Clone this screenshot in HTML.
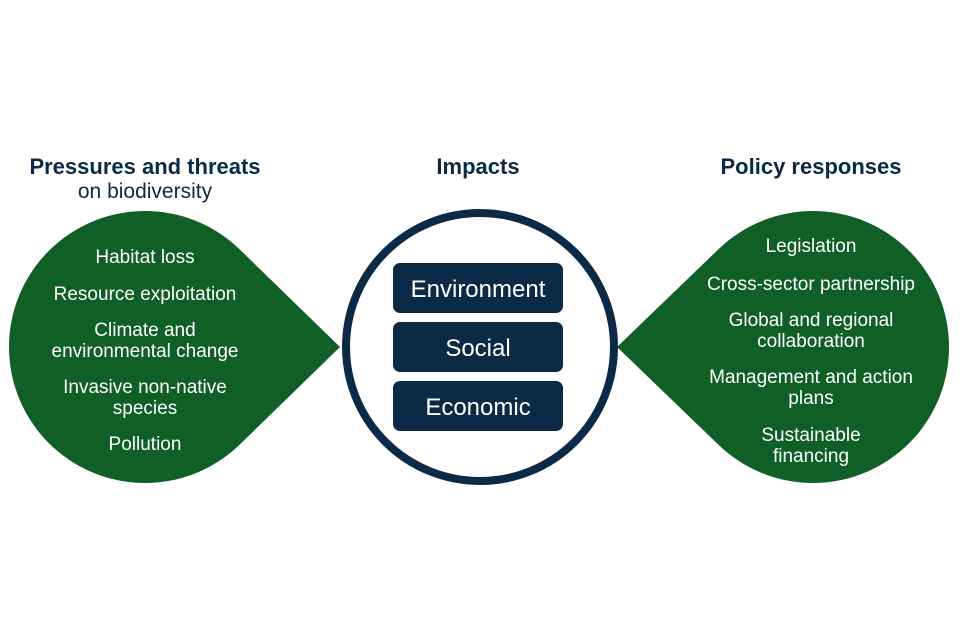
<!DOCTYPE html>
<html><head><meta charset="utf-8"><style>
body{margin:0;width:960px;height:640px;background:#fff;overflow:hidden;font-family:"Liberation Sans",sans-serif}
svg{position:absolute;left:0;top:0}
</style></head><body>
<svg width="960" height="640" viewBox="0 0 960 640" font-family="Liberation Sans, sans-serif">
<path d="M340,347 L239.8,249.5 A136,136 0 1 0 239.8,444.5 Z" fill="#0f5f27"/>
<path d="M617,347 L718.2,249.5 A136,136 0 1 1 718.2,444.5 Z" fill="#0f5f27"/>
<circle cx="480" cy="347" r="134" fill="#fff" stroke="#0b2a45" stroke-width="8"/>
<rect x="393" y="263" width="170" height="50" rx="7" fill="#0b2a45"/>
<rect x="393" y="322" width="170" height="50" rx="7" fill="#0b2a45"/>
<rect x="393" y="381" width="170" height="50" rx="7" fill="#0b2a45"/>
<g fill="#fff" font-size="24" text-anchor="middle">
<text x="478" y="297">Environment</text>
<text x="478" y="356">Social</text>
<text x="478" y="415">Economic</text>
</g>
<g fill="#0b2a45" text-anchor="middle">
<text x="145" y="174" font-size="22" font-weight="bold">Pressures and threats</text>
<text x="145" y="198" font-size="21">on biodiversity</text>
<text x="478" y="174" font-size="22" font-weight="bold">Impacts</text>
<text x="811" y="174" font-size="22" font-weight="bold">Policy responses</text>
</g>
<g fill="#fff" font-size="19" text-anchor="middle">
<text x="145" y="263">Habitat loss</text>
<text x="145" y="300">Resource exploitation</text>
<text x="145" y="336">Climate and</text>
<text x="145" y="357">environmental change</text>
<text x="145" y="393">Invasive non-native</text>
<text x="145" y="414">species</text>
<text x="145" y="450">Pollution</text>
<text x="811" y="252">Legislation</text>
<text x="811" y="290">Cross-sector partnership</text>
<text x="811" y="326">Global and regional</text>
<text x="811" y="347">collaboration</text>
<text x="811" y="383">Management and action</text>
<text x="811" y="404">plans</text>
<text x="811" y="441">Sustainable</text>
<text x="811" y="462">financing</text>
</g>
</svg>
</body></html>
